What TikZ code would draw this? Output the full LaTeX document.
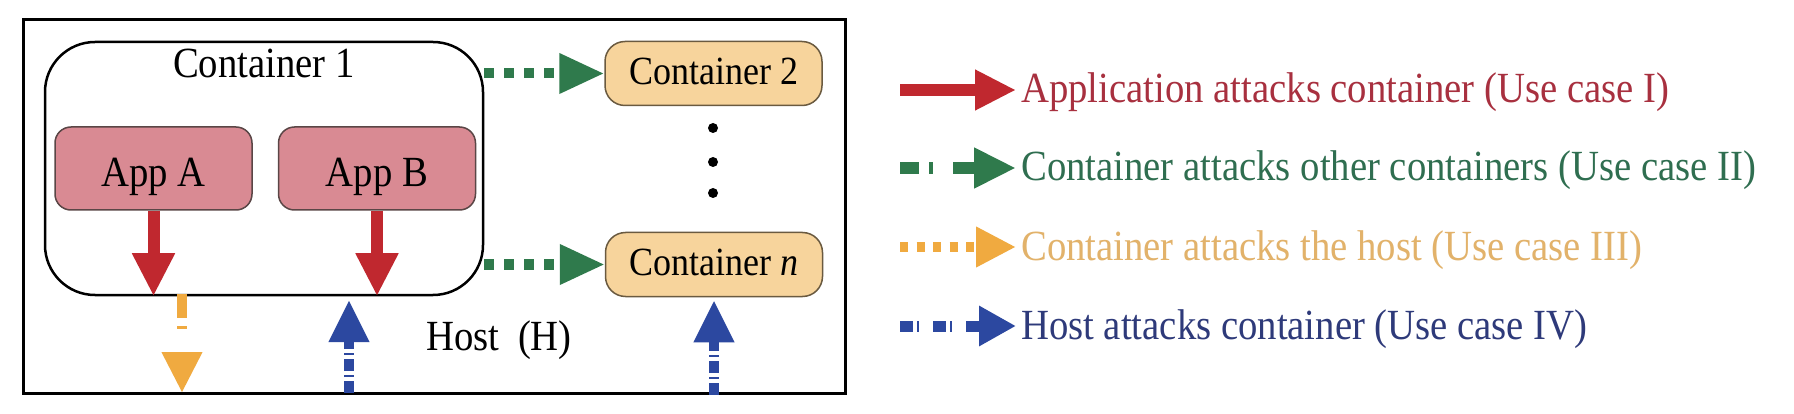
\documentclass[tikz,border=0pt]{standalone}
\usepackage{fontspec}
\setmainfont{Liberation Serif}[FakeStretch=0.9]
\usetikzlibrary{arrows.meta}
\definecolor{cred}{HTML}{C0282F}
\definecolor{tred}{HTML}{A8303F}
\definecolor{cgreen}{HTML}{2F7A4C}
\definecolor{tgreen}{HTML}{2F6E50}
\definecolor{corange}{HTML}{F0AA40}
\definecolor{torange}{HTML}{E2B26A}
\definecolor{cblue}{HTML}{2C48A0}
\definecolor{tblue}{HTML}{2E3A7A}
\definecolor{appfill}{HTML}{D98A93}
\definecolor{appborder}{HTML}{5A4646}
\definecolor{cfill}{HTML}{F7D49C}
\definecolor{cborder}{HTML}{6A5A40}
\begin{document}
\begin{tikzpicture}[x=1pt,y=-1pt,
  bigtext/.style={font=\fontsize{43}{48}\selectfont},
  appbox/.style={draw=appborder, fill=appfill, line width=1.5pt, rounded corners=16pt,
    minimum width=197pt, minimum height=83pt, inner sep=0pt, text height=37pt, text depth=0pt,
    font=\fontsize{43}{48}\selectfont},
  cbox/.style={draw=cborder, fill=cfill, line width=1.5pt, rounded corners=20pt,
    minimum width=217pt, minimum height=64pt, inner sep=0pt, text height=22pt, text depth=0pt,
    font=\fontsize{40}{44}\selectfont},
  dotnode/.style={circle, fill=black, minimum size=10pt, inner sep=0pt},
  redarrow/.style={draw=cred, line width=12pt, -{Triangle[width=40pt,length=43pt,fill=cred]}},
  greenarrow/.style={draw=cgreen, line width=10pt, dash pattern=on 10pt off 10pt,
    -{Triangle[width=38pt,length=45pt,fill=cgreen]}},
  orangearrow/.style={draw=corange, line width=10pt, dash pattern=on 24pt off 8pt on 3pt off 40pt,
    -{Triangle[width=38pt,length=41pt,fill=corange]}},
  bluearrow/.style={draw=cblue, line width=10pt, dash pattern=on 12pt off 4pt on 2pt off 4pt,
    -{Triangle[width=38pt,length=42pt,fill=cblue]}},
  lgreen/.style={draw=cgreen, line width=12pt, dash pattern=on 19pt off 10pt on 4pt off 20pt on 40pt off 0pt,
    -{Triangle[width=38pt,length=42pt,fill=cgreen]}},
  lorange/.style={draw=corange, line width=10pt, dash pattern=on 8pt off 8.5pt,
    -{Triangle[width=38pt,length=40pt,fill=corange]}},
  lblue/.style={draw=cblue, line width=11pt, dash pattern=on 13pt off 4pt on 2pt off 14pt,
    -{Triangle[width=38pt,length=37pt,fill=cblue]}},
  legtext/.style={anchor=base west, inner sep=0pt, font=\fontsize{43}{48}\selectfont}
]
\useasboundingbox (0,0) rectangle (1794,414);
\fill[white] (0,0) rectangle (1794,414);

% host frame
\node[draw, line width=3pt, minimum width=822pt, minimum height=373pt, inner sep=0pt] (host) at (434,206.5) {};
% container 1
\node[draw, line width=2.5pt, rounded corners=50pt, minimum width=438pt, minimum height=253pt, inner sep=0pt] (c1) at (264,168.5) {};
\node[anchor=base, inner sep=0pt, bigtext] (c1lab) at (264,78) {Container 1};
\node[appbox] (appA) at (153.5,168.5) {App A};
\node[appbox] (appB) at (377,168.5) {App B};
\node[cbox] (c2) at (713.5,73.5) {Container 2};
\node[cbox] (cn) at (714,264.5) {Container \textit{n}};
\node[dotnode] (d1) at (713,128) {};
\node[dotnode] (d2) at (713,162) {};
\node[dotnode] (d3) at (713,193) {};
\node[anchor=base, inner sep=0pt, bigtext] (hostlab) at (499,350) {Host\hspace{9pt} (H)};

% arrows in diagram
\draw[redarrow] (appA.south) -- (appA.south |- c1.south);
\draw[redarrow] (appB.south) -- (appB.south |- c1.south);
\draw[greenarrow] (c1.east |- c2.west) -- (c2.west);
\draw[greenarrow] (c1.east |- cn.west) -- (cn.west);
\coordinate (o1) at (182,294);
\coordinate (o2) at (182,393);
\draw[orangearrow] (o1) -- (o2);
\coordinate (b1) at (349,393);
\coordinate (b1t) at (349,300);
\draw[bluearrow] (b1) -- (b1t);
\draw[bluearrow, shorten >=3pt] (cn.south |- host.south) -- (cn.south);

% legend
\coordinate (l1s) at (900,90);  \coordinate (l1e) at (1016,90);
\coordinate (l2s) at (900,168); \coordinate (l2e) at (1016,168);
\coordinate (l3s) at (900,247); \coordinate (l3e) at (1016,247);
\coordinate (l4s) at (900,326); \coordinate (l4e) at (1016,326);
\draw[draw=cred, line width=12pt, -{Triangle[width=38pt,length=41pt,fill=cred]}] (l1s) -- (l1e);
\draw[lgreen] (l2s) -- (l2e);
\draw[lorange] (l3s) -- (l3e);
\draw[lblue] (l4s) -- (l4e);
\node[legtext, text=tred] (t1) at (1021,103) {Application attacks container (Use case I)};
\node[legtext, text=tgreen] (t2) at (1021,181) {Container attacks other containers (Use case II)};
\node[legtext, text=torange] (t3) at (1021,260) {Container attacks the host (Use case III)};
\node[legtext, text=tblue] (t4) at (1021,339) {Host attacks container (Use case IV)};
\end{tikzpicture}
\end{document}
